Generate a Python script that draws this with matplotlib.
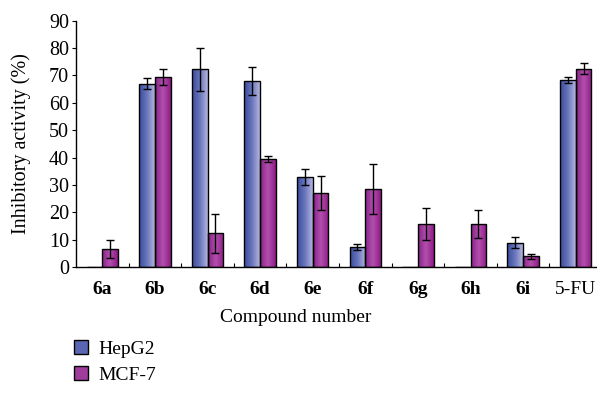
import numpy as np
import matplotlib
matplotlib.use('Agg')
from matplotlib import pyplot as plt
from matplotlib.colors import LinearSegmentedColormap
from matplotlib.patches import Patch

plt.rcParams['font.family'] = ['Liberation Serif', 'DejaVu Serif']

# data
compounds = ['6a', '6b', '6c', '6d', '6e', '6f', '6g', '6h', '6i', '5-FU']
hepg2 = [0, 66.9, 72.2, 68.0, 32.9, 7.3, 0, 0, 8.8, 68.3]
hepg2_err = [0, 2.0, 8.0, 5.2, 2.9, 1.0, 0, 0, 2.0, 1.0]
mcf7 = [6.6, 69.4, 12.3, 39.3, 27.0, 28.5, 15.6, 15.7, 3.9, 72.4]
mcf7_err = [3.3, 2.9, 7.2, 1.1, 6.1, 9.1, 5.9, 5.0, 1.0, 2.0]

blue_cmap = LinearSegmentedColormap.from_list('b', ['#3a4c9e', '#6a76bc', '#b4b6de'])
mag_cmap = LinearSegmentedColormap.from_list('m', ['#862486', '#b24fae', '#8e1c84'])

FS = 14


def gradient_bars(ax, bars, cmap):
    grad = np.linspace(0, 1, 64).reshape(1, -1)
    for b in bars:
        x0, y0 = b.get_x(), b.get_y()
        w, h = b.get_width(), b.get_height()
        b.set_facecolor('none')
        if h <= 0:
            continue
        im = ax.imshow(grad, cmap=cmap, aspect='auto', extent=[x0, x0 + w, y0, y0 + h],
                       interpolation='bilinear', zorder=1)
        im.set_clip_path(b)


fig = plt.figure(figsize=(5.97, 3.98), dpi=100)
ax = fig.add_axes([76 / 597, 131 / 398, 526 / 597, 246.3 / 398])

x = np.arange(len(compounds)) + 0.5
w = 0.3
b1 = ax.bar(x - w / 2, hepg2, w, edgecolor='black', linewidth=1.0, zorder=2)
b2 = ax.bar(x + w / 2, mcf7, w, edgecolor='black', linewidth=1.0, zorder=2)
gradient_bars(ax, b1, blue_cmap)
gradient_bars(ax, b2, mag_cmap)

# error bars only where there is an error
for xs, vals, errs in [(x - w / 2, hepg2, hepg2_err), (x + w / 2, mcf7, mcf7_err)]:
    idx = [i for i in range(len(vals)) if errs[i] > 0]
    ax.errorbar(xs[idx], np.array(vals)[idx], yerr=np.array(errs)[idx], fmt='none',
                ecolor='black', elinewidth=1.0, capsize=3, capthick=1.0, zorder=3)

ax.set_xlim(0, 10)
ax.set_ylim(0, 90)
ax.set_yticks(range(0, 91, 10))
ax.tick_params(axis='y', direction='out', length=3, labelsize=14.5, pad=2)
ax.set_xticks(range(1, 10))
ax.set_xticklabels([])
ax.tick_params(axis='x', which='major', direction='in', length=3)
ax.set_xticks(x, minor=True)
ax.set_xticklabels(compounds, minor=True, fontsize=FS)
ax.tick_params(axis='x', which='minor', length=0, pad=10)
for lab in ax.get_xticklabels(minor=True):
    if lab.get_text() != '5-FU':
        lab.set_fontweight('bold')

for s in ['top', 'right']:
    ax.spines[s].set_visible(False)
ax.spines['left'].set_linewidth(1.0)
ax.spines['bottom'].set_linewidth(1.0)

ax.set_ylabel('Inhibitory activity (%)', fontsize=FS + 0.5)
ax.yaxis.set_label_coords(-45 / 526, 0.5)
fig.text(296 / 597, 1 - 318 / 398, 'Compound number', fontsize=FS, ha='center', va='center')

handles = [Patch(facecolor='#5a66b2', edgecolor='black', label='HepG2'),
           Patch(facecolor='#a03c9c', edgecolor='black', label='MCF-7')]
fig.legend(handles=handles, loc='center left', bbox_to_anchor=(56 / 597, 1 - 362 / 398),
           frameon=False, fontsize=FS, handlelength=0.75, handleheight=0.75,
           handletextpad=0.55, labelspacing=0.4)

fig.savefig('out.png', dpi=100)
